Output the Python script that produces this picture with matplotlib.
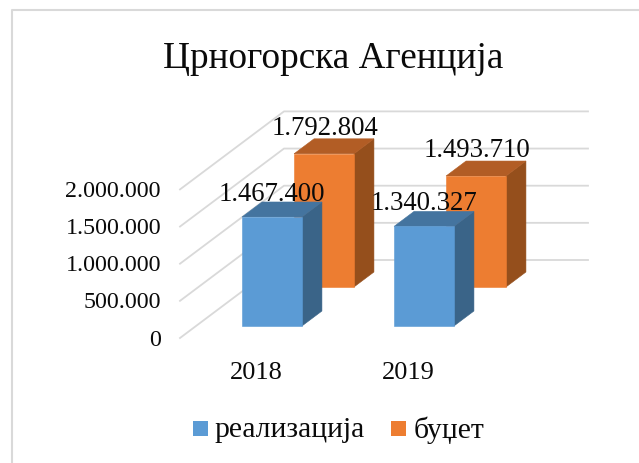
import matplotlib
matplotlib.use("Agg")
import matplotlib.pyplot as plt
from matplotlib.patches import Polygon, Rectangle

years = ["2018", "2019"]
realizacija = [1467400, 1340327]
budzet = [1792804, 1493710]
value_labels = {"реализација": ["1.467.400", "1.340.327"], "буџет": ["1.792.804", "1.493.710"]}
yticks = [0, 500000, 1000000, 1500000, 2000000]
ytick_labels = ["0", "500.000", "1.000.000", "1.500.000", "2.000.000"]
title = "Црногорска Агенција"

W, H = 639, 463
plt.rcParams["font.family"] = ["Liberation Serif", "DejaVu Serif"]
fig = plt.figure(figsize=(W / 100, H / 100), dpi=100)
ax = fig.add_axes([0, 0, 1, 1])
ax.axis("off")

PX_X = 152.0            # pixels per category
PX_Y = 74.3e-6          # pixels per value unit
X0, Y0 = 180.0, 463 - 338.0  # pixel origin of plot floor front
ax.set_xlim(-X0 / PX_X, (W - X0) / PX_X)
ax.set_ylim(-Y0 / PX_Y, (H - Y0) / PX_Y)
DX = 104 / PX_X         # depth shift in x units
DY = 78 / PX_Y          # depth shift in value units


def proj(x, y, d):
    return (x + d * DX, y + d * DY)


GRID = "#d9d9d9"
TXT = "#0a0a0a"
for v, lab in zip(yticks, ytick_labels):
    a, b, c = proj(0, v, 0), proj(0, v, 1), proj(2, v, 1)
    ax.plot([a[0], b[0], c[0]], [a[1], b[1], c[1]], color=GRID, lw=1.3, zorder=1)
    ax.annotate(lab, xy=a, xytext=(-19, -2), textcoords="offset pixels",
                ha="right", va="center", fontsize=17.3, color=TXT)


def bar3d(xc, v, dc, front, top, side, z):
    w, dd = 0.197, 0.096
    l, r = xc - w, xc + w
    d0, d1 = dc - dd, dc + dd
    ax.add_patch(Polygon([proj(r, 0, d0), proj(r, 0, d1), proj(r, v, d1), proj(r, v, d0)],
                         fc=side, ec=side, lw=0.4, zorder=z))
    ax.add_patch(Polygon([proj(l, v, d0), proj(r, v, d0), proj(r, v, d1), proj(l, v, d1)],
                         fc=top, ec=top, lw=0.4, zorder=z))
    ax.add_patch(Polygon([proj(l, 0, d0), proj(r, 0, d0), proj(r, v, d0), proj(l, v, d0)],
                         fc=front, ec=front, lw=0.4, zorder=z))


B = ("#5b9bd5", "#44749f", "#3a6488")
O = ("#ed7d31", "#b25d25", "#954f1c")
positions = [0.5, 1.5]
for i, xc in enumerate(positions):
    bar3d(xc, budzet[i], 0.75, *O, 2 + i * 0.1)
for i, xc in enumerate(positions):
    bar3d(xc, realizacija[i], 0.25, *B, 3 + i * 0.1)

for i, xc in enumerate(positions):
    p = proj(xc, budzet[i], 0.75)
    ax.annotate(value_labels["буџет"][i], xy=p, xytext=(-9, 18), textcoords="offset pixels",
                ha="center", va="center", fontsize=19.3, color=TXT, zorder=6)
    p = proj(xc, realizacija[i], 0.25)
    ax.annotate(value_labels["реализација"][i], xy=p, xytext=(-10, 15), textcoords="offset pixels",
                ha="center", va="center", fontsize=19.3, color=TXT, zorder=6)
    c = proj(xc, 0, 0)
    ax.annotate(years[i], xy=c, xytext=(0, -35), textcoords="offset pixels",
                ha="center", va="center", fontsize=19, color=TXT)

fig.text(333 / W, 1 - 59 / H, title, ha="center", va="center", fontsize=26.8, color=TXT)

# legend
for px, tx, c, name in [(193, 214, B[0], "реализација"), (391, 414, O[0], "буџет")]:
    fig.add_artist(Rectangle((px / W, 1 - 436 / H), 15 / W, 15 / H, fc=c, ec="none",
                             transform=fig.transFigure))
    fig.text(tx / W, 1 - 430 / H, name, ha="left", va="center", fontsize=21.3, color=TXT)

# chart frame (left and top edges only)
fig.add_artist(plt.Line2D([12 / W, 12 / W, 1], [0, 1 - 10 / H, 1 - 10 / H], color="#d9d9d9", lw=1.5,
                          transform=fig.transFigure))

fig.savefig("out.png", dpi=100)
